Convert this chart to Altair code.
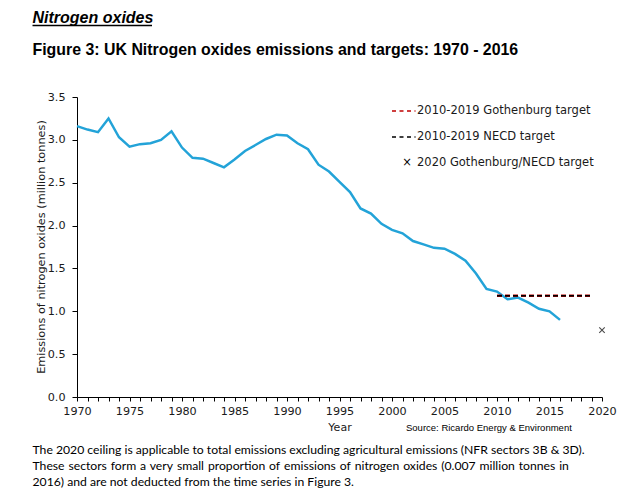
import altair as alt
import pandas as pd

# ---- data ----
years = list(range(1970, 2017))
emissions = [3.16, 3.12, 3.09, 3.25, 3.03, 2.92, 2.95, 2.96, 3.00, 3.10,
             2.91, 2.79, 2.78, 2.73, 2.68, 2.77, 2.87, 2.94, 3.01, 3.06,
             3.05, 2.96, 2.89, 2.71, 2.63, 2.51, 2.39, 2.20, 2.14, 2.02,
             1.95, 1.91, 1.82, 1.78, 1.74, 1.73, 1.67, 1.59, 1.44, 1.26,
             1.23, 1.14, 1.16, 1.10, 1.03, 1.00, 0.90]
target_years = [2010, 2019]
target_values = [1.181, 1.181]
target2020_years = [2020]
target2020_values = [0.78]

x_ticks = list(range(1970, 2021))
y_ticks = [0.0, 0.5, 1.0, 1.5, 2.0, 2.5, 3.0, 3.5]

legend_labels = ["2010-2019 Gothenburg target", "2010-2019 NECD target",
                 "2020 Gothenburg/NECD target"]
section_title = "Nitrogen oxides"
figure_title = "Figure 3: UK Nitrogen oxides emissions and targets: 1970 - 2016"
y_title = "Emissions of nitrogen oxides (million tonnes)"
x_title = "Year"
source_text = "Source: Ricardo Energy & Environment"
footnote = [
    "The 2020 ceiling is applicable to total emissions excluding agricultural emissions (NFR sectors 3B & 3D).",
    "These sectors form a very small proportion of emissions of nitrogen oxides (0.007 million tonnes in",
    "2016) and are not deducted from the time series in Figure 3.",
]
justified = [False, True, False]

emis_df = pd.DataFrame({"year": years, "value": emissions})
target_df = pd.DataFrame({"year": target_years, "value": target_values})
t2020_df = pd.DataFrame({"year": target2020_years, "value": target2020_values})

W, H = 525, 300
AX_FONT = "DejaVu Sans"
AX_COLOR = "#1a1a1a"

x_enc = alt.X(
    "year:Q",
    scale=alt.Scale(domain=[1970, 2020], nice=False, zero=False),
    axis=alt.Axis(values=x_ticks, format="d",
                  labelExpr="datum.value % 5 == 0 ? datum.label : ''",
                  grid=False, domainColor="#000", tickColor="#000",
                  tickSize=4, labelPadding=4, labelFont=AX_FONT,
                  labelFontSize=11.2, labelColor=AX_COLOR,
                  labelFlush=False, labelOverlap=False, title=None),
)
y_enc = alt.Y(
    "value:Q",
    scale=alt.Scale(domain=[0, 3.5], nice=False),
    axis=alt.Axis(values=y_ticks, format=".1f", grid=False,
                  domainColor="#000", tickColor="#000", tickSize=5,
                  labelPadding=7, labelFont=AX_FONT, labelFontSize=11.2,
                  labelColor=AX_COLOR, labelFlush=False, title=None),
)

line = alt.Chart(emis_df).mark_line(color="#23A3D8", strokeWidth=2.5).encode(x=x_enc, y=y_enc)
goth = alt.Chart(target_df).mark_line(color="#C00000", strokeWidth=2.4,
                                      strokeDash=[5, 3]).encode(x=x_enc, y=y_enc)
necd = alt.Chart(target_df).mark_line(color="#000000", strokeWidth=1.4,
                                      strokeDash=[5, 3]).encode(x=x_enc, y=y_enc)
cross = alt.Chart(t2020_df).mark_point(
    shape="M-1,-1L1,1M-1,1L1,-1", size=30, color="#000", strokeWidth=1.1, filled=False
).encode(x=x_enc, y=y_enc)

one = alt.Data(values=[{}])


def txt(text, x, y, size=11, font=AX_FONT, color=AX_COLOR, weight="normal",
        style="normal", align="left", baseline="middle", angle=0):
    kw = dict(text=text, font=font, fontSize=size, color=color, fontWeight=weight,
              fontStyle=style, align=align, baseline=baseline)
    if angle:
        kw["angle"] = angle
    return alt.Chart(one).mark_text(**kw).encode(x=alt.value(x), y=alt.value(y))


def dash_key(y, color):
    return alt.Chart(one).mark_rule(color=color, strokeWidth=1.3, strokeDash=[4, 3.5]).encode(
        x=alt.value(315), x2=alt.value(338.5), y=alt.value(y))


layers = [line, goth, necd, cross]

# titles
layers.append(txt(section_title, -44.5, -74, size=16, font="Liberation Sans",
                  color="#000", weight="bold", style="italic", baseline="alphabetic"))
layers.append(alt.Chart(one).mark_rule(color="#000", strokeWidth=1.3).encode(
    x=alt.value(-44.5), x2=alt.value(75), y=alt.value(-71.5)))
layers.append(txt(figure_title, -44.5, -42, size=15.9, font="Liberation Sans",
                  color="#000", weight="bold", baseline="alphabetic"))

# legend
layers.append(dash_key(14, "#C00000"))
layers.append(txt(legend_labels[0], 340, 14, size=11.5))
layers.append(dash_key(40, "#000"))
layers.append(txt(legend_labels[1], 340, 40, size=11.5))
layers.append(txt("\u00d7", 330, 66, size=11.5, color="#000", align="center"))
layers.append(txt(legend_labels[2], 340, 66, size=11.5))

# axis titles
layers.append(txt(y_title, -35, H / 2, size=11.3, align="center", angle=270))
layers.append(txt(x_title, W / 2 + 0.5, 331, size=11, align="center"))
layers.append(txt(source_text, 329, 331, size=9.5, font="Liberation Sans", color="#000"))

# footnote
for i, line_text in enumerate(footnote):
    shown = line_text.replace(" ", "\u200a ") if justified[i] else line_text
    layers.append(txt(shown, -44.5, 353 + 16 * i, size=12.2, font="Lato", color="#000"))

chart = alt.layer(*layers).properties(
    width=W, height=H,
    autosize=alt.AutoSizeParams(type="none"),
    padding={"left": 69, "top": 89, "right": 21, "bottom": 91},
).configure_view(stroke=None)

chart.save("out.html", embed_options={"renderer": "svg", "actions": False})
